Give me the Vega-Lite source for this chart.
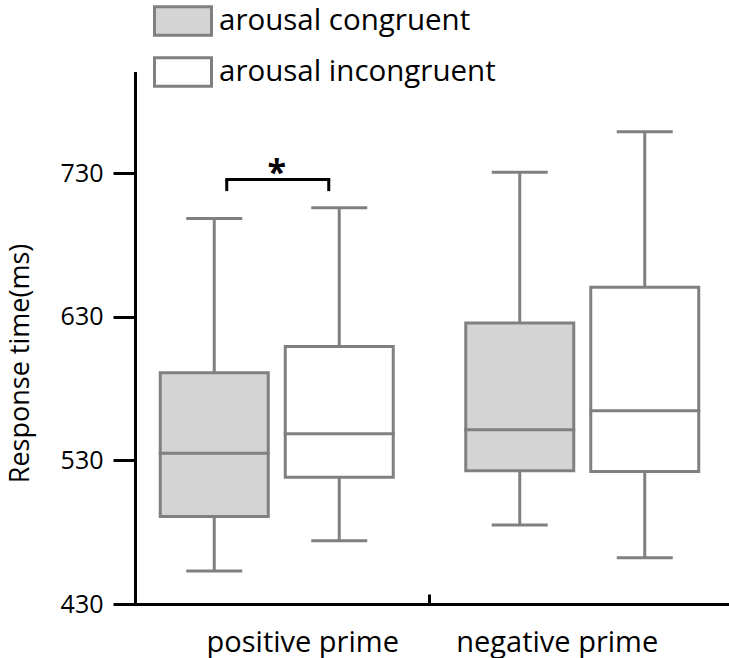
{
  "$schema": "https://vega.github.io/schema/vega-lite/v6.json",
  "width": 592,
  "height": 531,
  "autosize": "none",
  "padding": {"left": 135, "top": 73, "right": 2, "bottom": 54},
  "background": "white",
  "config": {
    "font": "Open Sans",
    "view": {"stroke": null},
    "axis": {"grid": false, "domainColor": "black", "domainWidth": 3, "tickColor": "black", "tickWidth": 3, "labelColor": "black", "labelFont": "Open Sans", "labelFontSize": 27, "titleFont": "Open Sans", "titleFontSize": 26, "titleFontWeight": "normal", "titleColor": "black", "domainCap": "square"}
  },
  "datasets": {
    "boxes": [
      {"prime": "positive prime", "condition": "arousal congruent", "min": 453, "q1": 490.9, "median": 535.1, "q3": 591.2, "max": 698.6},
      {"prime": "positive prime", "condition": "arousal incongruent", "min": 474, "q1": 518.4, "median": 548.6, "q3": 609.5, "max": 706.1},
      {"prime": "negative prime", "condition": "arousal congruent", "min": 485.1, "q1": 522.8, "median": 551.4, "q3": 625.8, "max": 730.9},
      {"prime": "negative prime", "condition": "arousal incongruent", "min": 462.3, "q1": 522.3, "median": 564.7, "q3": 650.7, "max": 759.1}
    ],
    "sig": [
      {"prime": "positive prime", "lo": 717.7, "hi": 725.8, "label": "*"}
    ]
  },
  "layer": [
    {
      "data": {"name": "boxes"},
      "mark": {"type": "rule", "color": "#808080", "strokeWidth": 3},
      "encoding": {
        "x": {
          "field": "prime", "type": "nominal",
          "scale": {"domain": ["positive prime", "negative prime"], "range": [-11, 600], "paddingInner": 0, "paddingOuter": 0},
          "axis": {
            "title": null,
            "bandPosition": 0,
            "tickSize": -10,
            "tickOpacity": {"condition": {"test": "datum.value === 'positive prime'", "value": 0}, "value": 1},
            "labelOffset": {"condition": {"test": "datum.value === 'positive prime'", "value": 26}, "value": -25},
            "labelBaseline": "alphabetic",
            "labelFontSize": 29,
            "labelPadding": 57,
            "labelLimit": 400,
            "labelAngle": 0
          }
        },
        "xOffset": {"field": "condition", "type": "nominal", "scale": {"domain": ["arousal congruent", "arousal incongruent"], "paddingInner": 0.136, "paddingOuter": 0.29}},
        "y": {
          "field": "q3", "type": "quantitative",
          "scale": {"domain": [430, 800], "nice": false, "zero": false},
          "axis": {"values": [430, 530, 630, 730], "tickSize": 22, "labelPadding": 10, "labelFontSize": 25, "title": "Response time(ms)", "titleY": 290, "titlePadding": 26, "titleFontSize": 27}
        },
        "y2": {"field": "max"}
      }
    },
    {
      "data": {"name": "boxes"},
      "mark": {"type": "rule", "color": "#808080", "strokeWidth": 3},
      "encoding": {
        "x": {"field": "prime", "type": "nominal"},
        "xOffset": {"field": "condition", "type": "nominal"},
        "y": {"field": "min", "type": "quantitative"},
        "y2": {"field": "q1"}
      }
    },
    {
      "data": {"name": "boxes"},
      "mark": {"type": "bar", "stroke": "#808080", "strokeWidth": 3, "opacity": 1},
      "encoding": {
        "x": {"field": "prime", "type": "nominal"},
        "xOffset": {"field": "condition", "type": "nominal"},
        "y": {"field": "q1", "type": "quantitative"},
        "y2": {"field": "q3"},
        "fill": {
          "field": "condition", "type": "nominal",
          "scale": {"domain": ["arousal congruent", "arousal incongruent"], "range": ["#d4d4d4", "#ffffff"]},
          "legend": {
            "orient": "none", "legendX": 18, "legendY": -82, "title": null,
            "symbolType": "M-1,-0.5H1V0.5H-1Z", "symbolSize": 3249,
            "symbolStrokeColor": "#808080", "symbolStrokeWidth": 3, "symbolOpacity": 1,
            "labelFont": "Open Sans", "labelFontSize": 29.5, "labelColor": "black", "labelOffset": 6,
            "rowPadding": -2.5, "padding": 0, "labelLimit": 400
          }
        }
      }
    },
    {
      "data": {"name": "boxes"},
      "mark": {"type": "tick", "orient": "horizontal", "size": 111, "thickness": 3, "color": "#808080", "opacity": 1},
      "encoding": {
        "x": {"field": "prime", "type": "nominal"},
        "xOffset": {"field": "condition", "type": "nominal"},
        "y": {"field": "median", "type": "quantitative"}
      }
    },
    {
      "data": {"name": "boxes"},
      "mark": {"type": "tick", "orient": "horizontal", "size": 56, "thickness": 3, "color": "#808080", "opacity": 1},
      "encoding": {
        "x": {"field": "prime", "type": "nominal"},
        "xOffset": {"field": "condition", "type": "nominal"},
        "y": {"field": "max", "type": "quantitative"}
      }
    },
    {
      "data": {"name": "boxes"},
      "mark": {"type": "tick", "orient": "horizontal", "size": 56, "thickness": 3, "color": "#808080", "opacity": 1},
      "encoding": {
        "x": {"field": "prime", "type": "nominal"},
        "xOffset": {"field": "condition", "type": "nominal"},
        "y": {"field": "min", "type": "quantitative"}
      }
    },
    {
      "data": {"name": "sig"},
      "mark": {"type": "tick", "orient": "horizontal", "size": 105, "thickness": 3, "color": "black", "opacity": 1, "xOffset": 1},
      "encoding": {
        "x": {"field": "prime", "type": "nominal"},
        "y": {"field": "hi", "type": "quantitative"}
      }
    },
    {
      "data": {"name": "sig"},
      "mark": {"type": "rule", "color": "black", "strokeWidth": 3, "xOffset": -50},
      "encoding": {
        "x": {"field": "prime", "type": "nominal"},
        "y": {"field": "lo", "type": "quantitative"},
        "y2": {"field": "hi"}
      }
    },
    {
      "data": {"name": "sig"},
      "mark": {"type": "rule", "color": "black", "strokeWidth": 3, "xOffset": 52},
      "encoding": {
        "x": {"field": "prime", "type": "nominal"},
        "y": {"field": "lo", "type": "quantitative"},
        "y2": {"field": "hi"}
      }
    },
    {
      "data": {"name": "sig"},
      "mark": {"type": "text", "font": "Open Sans", "fontSize": 34, "fontWeight": "bold", "color": "black", "baseline": "alphabetic", "align": "center", "dy": 5},
      "encoding": {
        "x": {"field": "prime", "type": "nominal"},
        "y": {"field": "hi", "type": "quantitative"},
        "text": {"field": "label"}
      }
    }
  ]
}
